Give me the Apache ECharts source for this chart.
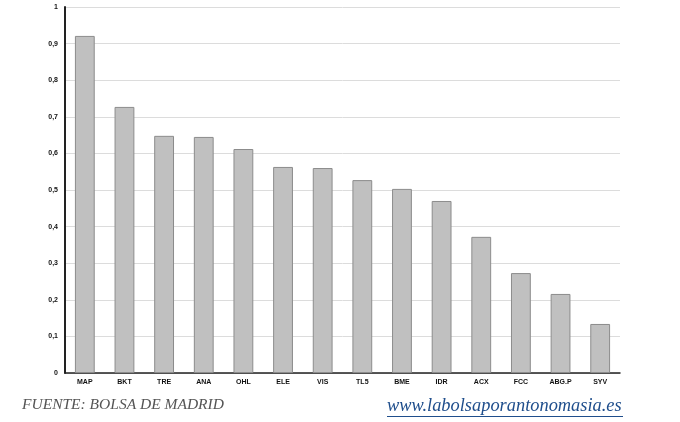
<!DOCTYPE html>
<html><head><meta charset="utf-8">
<script src="https://cdn.jsdelivr.net/npm/echarts@6/dist/echarts.min.js"></script>
<style>html,body{margin:0;padding:0;background:#fff}#c{width:680px;height:422px}</style>
</head><body><div id="c"></div>
<script>
const categories = ['MAP','BKT','TRE','ANA','OHL','ELE','VIS','TL5','BME','IDR','ACX','FCC','ABG.P','SYV'];
const values = [0.921,0.727,0.648,0.645,0.612,0.563,0.560,0.527,0.503,0.470,0.372,0.273,0.216,0.134];
const sourceText = 'FUENTE: BOLSA DE MADRID';
const urlText = 'www.labolsaporantonomasia.es';

const chart = echarts.init(document.getElementById('c'));
chart.setOption({
  animation:false,
  grid:{left:65,right:60,top:7,bottom:49},
  xAxis:{type:'category',data:categories,
    axisLine:{lineStyle:{color:'#222',width:1.5}},
    axisTick:{show:false},
    axisLabel:{color:'#111',fontSize:7,fontWeight:'bold',fontFamily:'Liberation Sans',margin:6}},
  yAxis:{type:'value',min:0,max:1,interval:0.1,
    axisLine:{show:true,lineStyle:{color:'#222',width:2}},
    axisTick:{show:false},
    splitLine:{lineStyle:{color:'#dcdcdc',width:1}},
    axisLabel:{color:'#111',fontSize:7,fontWeight:'bold',fontFamily:'Liberation Sans',margin:7,
      formatter:v=>String(Math.round(v*10)/10).replace('.',',')}},
  series:[{type:'bar',data:values,barWidth:'50%',
    itemStyle:{color:'#c0c0c0',borderColor:'#8c8c8c',borderWidth:1}}],
  graphic:[
    {type:'text',left:22,top:397,style:{text:sourceText,fill:'#555',font:'italic 15.5px "Liberation Serif", "DejaVu Serif", serif'}},
    {type:'text',left:387,top:397,style:{text:urlText,fill:'#1f4e8c',font:'italic 18.4px "Liberation Serif", "DejaVu Serif", serif'}},
    {type:'rect',shape:{x:387,y:416,width:236,height:1},style:{fill:'#1f4e8c'}}
  ]
});
</script></body></html>
